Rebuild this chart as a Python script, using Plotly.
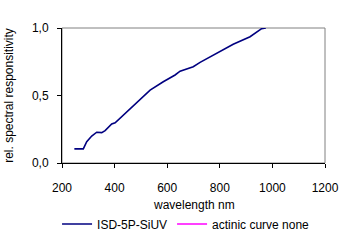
import plotly.graph_objects as go

wavelength = [247, 281, 294, 313, 332, 351, 364, 389, 402, 433, 465, 497, 535, 585,
              630, 649, 699, 725, 763, 775, 851, 915, 959, 975]
responsivity = [0.105, 0.105, 0.158, 0.2, 0.228, 0.225, 0.24, 0.289, 0.298, 0.354, 0.412,
                0.467, 0.54, 0.602, 0.652, 0.68, 0.713, 0.745, 0.785, 0.80, 0.88, 0.935,
                0.995, 1.0]
actinic_wl = [None]
actinic_val = [None]

x_ticks = [200, 400, 600, 800, 1000, 1200]
y_ticks = [0.0, 0.5, 1.0]
y_tick_labels = ["0,0", "0,5", "1,0"]
x_title = "wavelength nm"
y_title = "rel. spectral responsitivity"

FONT = "Liberation Sans, Arial, sans-serif"

fig = go.Figure()
fig.add_trace(go.Scatter(x=wavelength, y=responsivity, mode="lines",
                         name="ISD-5P-SiUV", line=dict(color="#000080", width=1.6)))
fig.add_trace(go.Scatter(x=actinic_wl, y=actinic_val, mode="lines",
                         name="actinic curve none", line=dict(color="#FF00FF", width=1.6)))

fig.add_shape(type="rect", xref="paper", yref="paper", x0=0, x1=1, y0=0, y1=1,
              line=dict(color="#808080", width=1), layer="below")

fig.add_annotation(text=x_title, xref="paper", yref="paper", x=0.5,
                   y=(163 - 205) / 135, xanchor="center", yanchor="middle",
                   showarrow=False, font=dict(size=12))

fig.update_layout(
    width=350, height=241,
    margin=dict(l=62, r=25, t=28, b=78),
    paper_bgcolor="white", plot_bgcolor="white",
    font=dict(family=FONT, size=12, color="#000000"),
    showlegend=True,
    legend=dict(orientation="h", xref="container", x=0.163, xanchor="left",
                yref="container", y=1 - 224 / 241, yanchor="middle",
                font=dict(size=12), bgcolor="rgba(0,0,0,0)", itemwidth=30,
                tracegroupgap=0),
    xaxis=dict(range=[200, 1200], tickvals=x_ticks, ticks="outside", ticklen=4,
               tickcolor="black", showline=True, linecolor="black", linewidth=1,
               showgrid=False, zeroline=False, ticklabelstandoff=10, automargin=False),
    yaxis=dict(range=[0, 1], tickvals=y_ticks, ticktext=y_tick_labels, ticks="outside",
               ticklen=4, tickcolor="black", showline=True, linecolor="black", linewidth=1,
               showgrid=False, zeroline=False, ticklabelstandoff=6, automargin=False,
               title=dict(text=y_title, font=dict(size=12))),
)

fig.write_html("out.html")
